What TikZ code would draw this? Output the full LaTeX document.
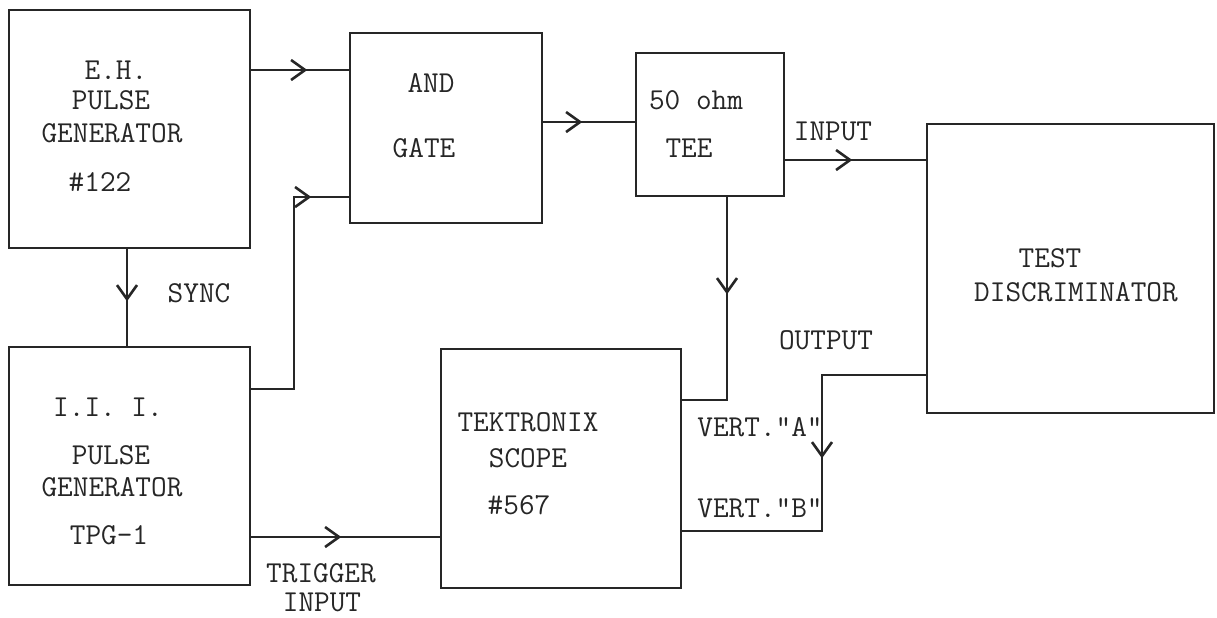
\documentclass[tikz,border=0pt]{standalone}
\usetikzlibrary{arrows.meta,decorations.markings,fit}
\tikzset{
  box/.style={draw=ink,line width=1.3pt,inner sep=0pt,rectangle},
  lbl/.style={text=ink,inner sep=0pt,font=\ttfamily\fontsize{15.2pt}{18pt}\selectfont},
  conn/.style={draw=ink,line width=1.3pt},
  arrat/.style={postaction={decorate},decoration={markings,
     mark=at position #1 with {\arrow[line width=1.3pt]{Straight Barb[length=7pt,width=10pt]}}}}
}
\definecolor{ink}{gray}{0.15}
\begin{document}
\begin{tikzpicture}[x=0.5pt,y=-0.5pt]
\useasboundingbox (0,0) rectangle (1217,617);
% boxes
\node[box,fit={(9,10) (250,248)}] (eh) {};
\node[box,fit={(350,33) (542,223)}] (and) {};
\node[box,fit={(636,53) (784,196)}] (tee) {};
\node[box,fit={(927,124) (1214,413)}] (td) {};
\node[box,fit={(9,347) (250,585)}] (iii) {};
\node[box,fit={(441,349) (681,588)}] (tek) {};
% texts
\node[lbl] (t1) at (116,70) {E.H.};
\node[lbl] (t2) at (111,100) {PULSE};
\node[lbl] (t3) at (112,133) {GENERATOR};
\node[lbl] (t4) at (100,182) {\#122};
\node[lbl] (t5) at (431,83) {AND};
\node[lbl] (t6) at (424,148) {GATE};
\node[lbl] (t7) at (696,100) {50 ohm};
\node[lbl] (t8) at (689,148) {TEE};
\node[lbl] (t9) at (1050,258) {TEST};
\node[lbl] (t10) at (1076,292) {DISCRIMINATOR};
\node[lbl] (t11) at (108,407) {I.I. I.};
\node[lbl] (t12) at (111,455) {PULSE};
\node[lbl] (t13) at (112,487) {GENERATOR};
\node[lbl] (t14) at (109,535) {TPG-1};
\node[lbl] (t15) at (528,422) {TEKTRONIX};
\node[lbl] (t16) at (528,458) {SCOPE};
\node[lbl] (t17) at (519,505) {\#567};
\node[lbl] (l1) at (199,293) {SYNC};
\node[lbl] (l2) at (833,131) {INPUT};
\node[lbl] (l3) at (321,573) {TRIGGER};
\node[lbl] (l4) at (322,602) {INPUT};
\node[lbl] (l5) at (826,340) {OUTPUT};
\node[lbl] (l6) at (760,427) {VERT."A"};
\node[lbl] (l7) at (760,508) {VERT."B"};
% connectors
\draw[conn,arrat=28pt] (eh.east |- 0,70) -- (and.west |- 0,70);
\draw[conn,arrat=126pt] (iii.east |- 0,389) -- (294,389) |- (and.west |- 0,197);
\draw[conn,arrat=19.5pt] (and.east |- 0,122) -- (tee.west |- 0,122);
\draw[conn,arrat=33.5pt] (tee.east |- 0,160) -- (td.west |- 0,160);
\draw[conn,arrat=26pt] (eh.south -| 127,0) -- (iii.north -| 127,0);
\draw[conn,arrat=48.5pt] (tee.south -| 727,0) |- (tek.east |- 0,400);
\draw[conn,arrat=93.5pt] (td.west |- 0,375) -- (822,375) |- (tek.east |- 0,531);
\draw[conn,arrat=45pt] (iii.east |- 0,537) -- (tek.west |- 0,537);
\end{tikzpicture}
\end{document}
